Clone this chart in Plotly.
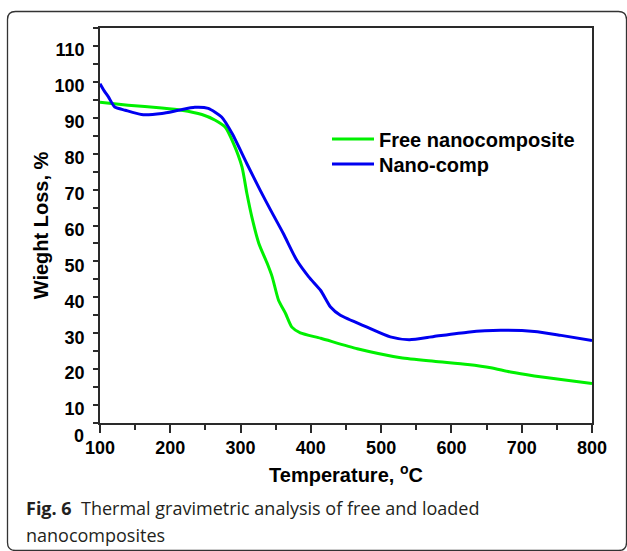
import plotly.graph_objects as go

# ---- data ----
temp_free = [100, 140, 188, 216, 245, 264, 278, 290, 302, 309, 316, 326, 338, 345, 354,
             364, 373, 385, 414, 466, 528, 575, 623, 656, 684, 718, 756, 800]
loss_free = [94.3, 93.5, 92.7, 92.1, 90.9, 89.3, 87.4, 82.8, 76.3, 68.9, 62.4, 55.0, 49.4,
             45.7, 39.2, 35.5, 31.7, 30.1, 28.6, 25.7, 23.2, 22.2, 21.3, 20.4, 19.2, 18.1,
             17.1, 16.0]

temp_comp = [100, 106, 112, 121, 136, 159, 188, 212, 235, 254, 273, 288, 309, 328, 343,
             361, 380, 397, 414, 428, 442, 480, 513, 540, 575, 623, 670, 718, 756, 800]
loss_comp = [99.5, 97.5, 95.8, 93.0, 92.1, 90.9, 91.2, 92.1, 92.9, 92.6, 90.2, 85.6, 77.2,
             69.8, 64.2, 57.7, 50.3, 45.7, 41.9, 37.3, 35.0, 31.7, 29.0, 28.2, 29.1, 30.3,
             30.8, 30.5, 29.4, 28.0]

series_names = ["Free nanocomposite", "Nano-comp"]
x_title = "Temperature, <sup>o</sup>C"
y_title = "Wieght Loss, %"
caption_bold = "Fig. 6"
caption_line1 = "Thermal gravimetric analysis of free and loaded"
caption_line2 = "nanocomposites"

W, H = 627, 551
ML, MR, MT, MB = 100, 35, 28, 128
PW, PH = W - ML - MR, H - MT - MB


def px(xp):
    return (xp - ML) / PW


def py(yp):
    return (H - MB - yp) / PH


fig = go.Figure()
fig.add_trace(go.Scatter(x=temp_free, y=loss_free, mode="lines", name=series_names[0],
                         legend="legend",
                         line=dict(color="#00f000", width=3, shape="spline", smoothing=0.6)))
fig.add_trace(go.Scatter(x=temp_comp, y=loss_comp, mode="lines", name=series_names[1],
                         legend="legend2",
                         line=dict(color="#0000f0", width=3, shape="spline", smoothing=0.6)))

tick_font = dict(family="Liberation Sans, Arial", size=18, color="black", weight="bold")
title_font = dict(family="Liberation Sans, Arial", size=20, color="black", weight="bold")
axis_col = "#2a2a2a"

fig.update_xaxes(range=[100, 800], tick0=100, dtick=100, ticks="outside", ticklen=8,
                 tickwidth=1.5, tickcolor=axis_col, showline=True, linecolor=axis_col,
                 linewidth=1.5, mirror=True, showgrid=False, zeroline=False,
                 tickfont=tick_font,
                 minor=dict(dtick=50, ticks="outside", ticklen=5, tickwidth=1.5,
                            tickcolor=axis_col, showgrid=False),
                 title=dict(text=x_title, font=title_font, standoff=11))
fig.update_yaxes(range=[5, 115], tick0=0, dtick=10, ticks="outside", ticklen=5,
                 tickwidth=1.5, tickcolor=axis_col, showline=True, linecolor=axis_col,
                 linewidth=1.5, mirror=True, showgrid=False, zeroline=False,
                 tickfont=tick_font, ticklabelshift=4, ticklabelstandoff=5,
                 minor=dict(dtick=5, ticks="outside", ticklen=5, tickwidth=1.5,
                            tickcolor=axis_col, showgrid=False),
                 title=dict(text=y_title, font=title_font, standoff=1))

r = 8
L, T, R, B = 7.5, 11.5, 626.5, 550.5
path = (f"M {px(L+r)},{py(T)} L {px(R-r)},{py(T)} Q {px(R)},{py(T)} {px(R)},{py(T+r)} "
        f"L {px(R)},{py(B-r)} Q {px(R)},{py(B)} {px(R-r)},{py(B)} "
        f"L {px(L+r)},{py(B)} Q {px(L)},{py(B)} {px(L)},{py(B-r)} "
        f"L {px(L)},{py(T+r)} Q {px(L)},{py(T)} {px(L+r)},{py(T)} Z")
fig.add_shape(type="path", xref="paper", yref="paper", path=path,
              line=dict(color="#333333", width=1.3), layer="below")

cap_font = dict(family="Open Sans", size=18, color="#231f20")
fig.add_annotation(xref="paper", yref="paper", x=px(24), y=py(508), xanchor="left",
                   yanchor="middle", showarrow=False, align="left",
                   text=f"<b>{caption_bold}</b>  {caption_line1}", font=cap_font)
fig.add_annotation(xref="paper", yref="paper", x=px(24), y=py(535), xanchor="left",
                   yanchor="middle", showarrow=False, align="left",
                   text=caption_line2, font=cap_font)
fig.add_annotation(xref="paper", yref="paper", x=px(79), y=py(436), xanchor="center",
                   yanchor="middle", showarrow=False, text="0", font=tick_font)

leg_font = dict(family="Liberation Sans, Arial", size=20, color="black", weight="bold")
leg_common = dict(xanchor="left", yanchor="top", bgcolor="rgba(0,0,0,0)", borderwidth=0,
                  font=leg_font, itemwidth=42)
fig.update_layout(width=W, height=H, margin=dict(l=ML, r=MR, t=MT, b=MB, autoexpand=False),
                  paper_bgcolor="white", plot_bgcolor="white", showlegend=True,
                  legend=dict(x=px(327), y=py(119.5), **leg_common),
                  legend2=dict(x=px(327), y=py(144.5), **leg_common))

fig.write_html("out.html")
